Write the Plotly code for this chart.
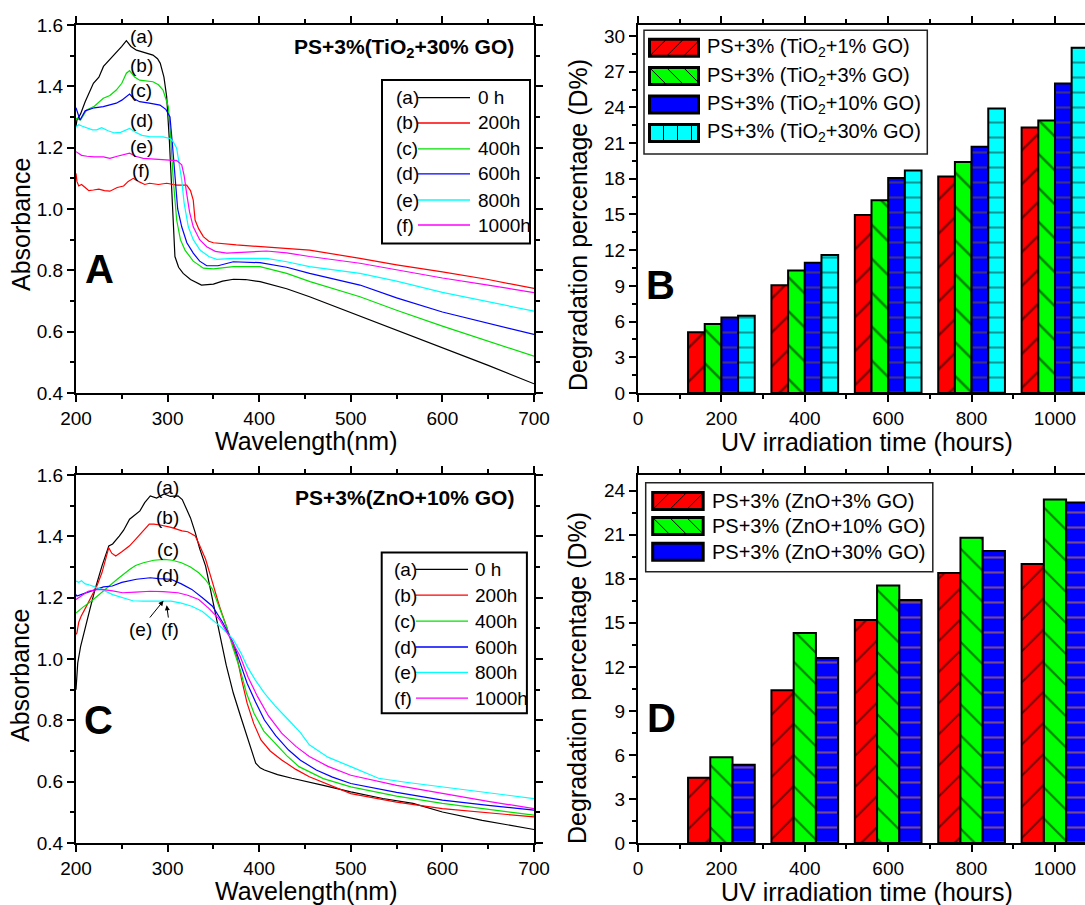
import plotly.graph_objects as go

W, H = 1085, 905
FONT = "Liberation Sans, Arial, sans-serif"

# ---------------- Panel A : PS+3%(TiO2+30% GO) absorbance ----------------
a0_wl = [200, 201, 205, 210, 219, 225, 230, 238, 244, 250, 255, 260, 266, 275, 284, 289, 292, 296, 299, 302, 304.5, 306, 308, 312, 317, 325, 337, 350, 360, 372, 385, 401, 430, 455, 510, 550, 600, 650, 700]
a0_ab = [1.27, 1.29, 1.31, 1.35, 1.41, 1.43, 1.465, 1.49, 1.508, 1.53, 1.549, 1.53, 1.518, 1.51, 1.502, 1.49, 1.475, 1.43, 1.366, 1.22, 1.073, 0.95, 0.845, 0.81, 0.79, 0.77, 0.752, 0.755, 0.765, 0.771, 0.770, 0.763, 0.74, 0.714, 0.651, 0.605, 0.547, 0.49, 0.43]
a200_wl = [200, 201, 203, 206, 210, 214, 219, 225, 231, 237, 245, 252, 257, 262.6, 268, 275, 280.3, 290, 299, 305, 310, 320.8, 325, 328, 330, 334, 339, 345, 350, 375, 400.9, 430, 455, 510, 550, 600, 650, 700]
a200_ab = [1.116, 1.09, 1.075, 1.08, 1.07, 1.06, 1.062, 1.065, 1.06, 1.058, 1.07, 1.075, 1.09, 1.10, 1.09, 1.08, 1.084, 1.08, 1.084, 1.08, 1.078, 1.078, 1.06, 1.029, 0.964, 0.935, 0.91, 0.895, 0.89, 0.883, 0.877, 0.872, 0.866, 0.839, 0.818, 0.795, 0.77, 0.741]
a400_wl = [200, 205, 211.6, 220, 229.8, 237, 244, 250, 255, 258.5, 264, 269.4, 284, 290, 295, 300.8, 303, 306.2, 309.9, 314, 319, 328, 339, 350, 371.7, 400.9, 430, 455.5, 510, 550, 600, 650, 700]
a400_ab = [1.296, 1.29, 1.323, 1.335, 1.361, 1.37, 1.388, 1.41, 1.443, 1.451, 1.43, 1.42, 1.415, 1.405, 1.388, 1.334, 1.25, 1.095, 0.964, 0.90, 0.866, 0.83, 0.807, 0.805, 0.812, 0.812, 0.79, 0.763, 0.714, 0.67, 0.618, 0.57, 0.52]
a600_wl = [200, 204.4, 210, 220, 229.8, 237, 244, 250, 258.5, 263, 269.4, 280, 291.7, 298, 302.6, 305, 308, 311, 315.4, 321, 328, 335, 342.7, 355, 371.7, 400.9, 430, 455, 510, 550, 600, 650, 700]
a600_ab = [1.33, 1.29, 1.32, 1.33, 1.334, 1.34, 1.345, 1.355, 1.375, 1.36, 1.35, 1.345, 1.339, 1.325, 1.30, 1.22, 1.095, 1.0, 0.942, 0.89, 0.856, 0.83, 0.815, 0.815, 0.828, 0.825, 0.81, 0.79, 0.752, 0.71, 0.664, 0.628, 0.591]
a800_wl = [200, 203, 207, 212, 218, 222.6, 228, 235, 242, 248.7, 258.5, 265, 272, 280.3, 295, 302.6, 306, 309.9, 312, 315.4, 318, 322.6, 328, 335.4, 345, 353.6, 371.7, 408, 430, 455, 510, 550, 600, 650, 700]
a800_ab = [1.268, 1.275, 1.27, 1.265, 1.258, 1.258, 1.265, 1.255, 1.248, 1.25, 1.263, 1.25, 1.24, 1.236, 1.235, 1.23, 1.22, 1.198, 1.16, 1.095, 1.02, 0.942, 0.90, 0.866, 0.845, 0.836, 0.839, 0.839, 0.828, 0.812, 0.79, 0.765, 0.728, 0.697, 0.667]
a1000_wl = [200, 203, 206, 212, 220, 230, 237, 245, 252, 258.5, 265, 273.4, 290, 302.6, 310, 315.4, 318, 320.8, 324, 328, 335, 342.7, 352, 364.6, 385, 408, 430, 455, 510, 550, 600, 650, 700]
a1000_ab = [1.187, 1.18, 1.175, 1.172, 1.17, 1.17, 1.165, 1.172, 1.178, 1.182, 1.172, 1.165, 1.162, 1.16, 1.158, 1.144, 1.11, 1.051, 0.99, 0.942, 0.90, 0.877, 0.862, 0.856, 0.86, 0.863, 0.857, 0.845, 0.823, 0.802, 0.775, 0.752, 0.727]

# ---------------- Panel C : PS+3%(ZnO+10% GO) absorbance ----------------
c0_wl = [200, 201.9, 205, 209.4, 215, 220.8, 228.3, 235.8, 240, 247.2, 252, 258.5, 264, 269.8, 275, 281.1, 288, 296.2, 303, 311.3, 316, 320.8, 325, 330.2, 335, 341.5, 349, 356.6, 364, 371.7, 380, 386.8, 392, 396.2, 401, 405.7, 420, 435.8, 470, 500, 535, 567.9, 600, 643.4, 700]
c0_ab = [0.90, 0.987, 1.04, 1.096, 1.16, 1.227, 1.303, 1.369, 1.375, 1.401, 1.42, 1.456, 1.47, 1.483, 1.51, 1.532, 1.525, 1.538, 1.53, 1.532, 1.52, 1.489, 1.46, 1.412, 1.36, 1.303, 1.19, 1.085, 0.98, 0.889, 0.81, 0.747, 0.70, 0.66, 0.645, 0.638, 0.623, 0.611, 0.588, 0.567, 0.545, 0.529, 0.501, 0.474, 0.444]
c200_wl = [200, 201, 203, 205.7, 211, 217, 223, 228.3, 232, 235.8, 239, 243.4, 250, 258.5, 265, 273.6, 280, 284.9, 292, 303.8, 315.8, 322, 330.2, 335, 341.5, 349, 356.6, 366, 375.5, 381, 386.8, 394, 401.9, 412, 424.5, 440, 454.7, 500, 550, 600, 650, 700]
c200_ab = [1.08, 1.085, 1.12, 1.14, 1.17, 1.205, 1.24, 1.281, 1.32, 1.363, 1.345, 1.336, 1.35, 1.369, 1.39, 1.418, 1.44, 1.44, 1.437, 1.429, 1.418, 1.415, 1.401, 1.37, 1.325, 1.25, 1.172, 1.09, 1.009, 0.93, 0.856, 0.79, 0.736, 0.70, 0.671, 0.64, 0.616, 0.561, 0.533, 0.512, 0.498, 0.485]
c400_wl = [200, 208, 217, 225, 235.8, 245, 258.5, 265, 273.6, 285, 296.2, 305, 315.1, 325, 334, 341, 349, 356, 364.2, 371, 379.2, 386, 394.3, 405, 417, 430, 443.4, 470, 500, 550, 600, 650, 700]
c400_ab = [1.15, 1.17, 1.189, 1.21, 1.238, 1.26, 1.292, 1.305, 1.314, 1.322, 1.325, 1.322, 1.314, 1.30, 1.281, 1.26, 1.227, 1.17, 1.107, 1.04, 0.965, 0.89, 0.823, 0.765, 0.725, 0.685, 0.649, 0.61, 0.583, 0.553, 0.529, 0.51, 0.491]
c600_wl = [200, 201, 210, 220.8, 230, 239.6, 250, 266, 281.1, 290, 303.8, 315, 326.4, 338, 349, 360, 371.7, 380, 386.8, 396, 405.7, 418, 432.1, 445, 462.3, 480, 500, 550, 600, 650, 700]
c600_ab = [1.21, 1.205, 1.215, 1.227, 1.235, 1.238, 1.25, 1.26, 1.265, 1.262, 1.26, 1.245, 1.227, 1.20, 1.172, 1.12, 1.052, 0.98, 0.921, 0.86, 0.801, 0.75, 0.703, 0.67, 0.638, 0.615, 0.594, 0.565, 0.54, 0.523, 0.507]
c800_wl = [200, 203, 206, 210, 213.2, 220, 228.3, 240, 250.9, 262, 273.6, 290, 303.8, 315, 326.4, 338, 349, 360, 371.7, 380, 386.8, 396, 405.7, 418, 432.1, 445, 454.7, 475, 500, 515, 530.2, 560, 600, 650, 700]
c800_ab = [1.254, 1.25, 1.255, 1.245, 1.243, 1.235, 1.227, 1.21, 1.20, 1.19, 1.189, 1.188, 1.189, 1.182, 1.172, 1.155, 1.129, 1.10, 1.063, 1.02, 0.976, 0.93, 0.889, 0.845, 0.801, 0.76, 0.72, 0.68, 0.649, 0.63, 0.611, 0.598, 0.583, 0.565, 0.545]
c1000_wl = [200, 203, 208, 213.2, 220, 228.3, 240, 250.9, 265, 281.1, 295, 311.3, 322, 334, 345, 356.6, 368, 379.2, 388, 398.1, 410, 424.5, 440, 454.7, 475, 500, 550, 600, 650, 700]
c1000_ab = [1.194, 1.20, 1.21, 1.221, 1.225, 1.227, 1.222, 1.216, 1.218, 1.221, 1.22, 1.216, 1.208, 1.194, 1.165, 1.129, 1.07, 1.009, 0.94, 0.878, 0.815, 0.758, 0.715, 0.682, 0.65, 0.621, 0.588, 0.561, 0.536, 0.512]

curve_letters = ["(a)", "(b)", "(c)", "(d)", "(e)", "(f)"]
time_labels = ["0 h", "200h", "400h", "600h", "800h", "1000h"]
line_colors = ["#000000", "#ff0000", "#00e000", "#0000ff", "#00ffff", "#ff00ff"]

# ---------------- Panel B / D : degradation bars ----------------
hours = [200, 400, 600, 800, 1000]
b_names = ["PS+3% (TiO<sub>2</sub>+1% GO)", "PS+3% (TiO<sub>2</sub>+3% GO)",
           "PS+3% (TiO<sub>2</sub>+10% GO)", "PS+3% (TiO<sub>2</sub>+30% GO)"]
b_1go = [5.1, 9.05, 14.95, 18.2, 22.3]
b_3go = [5.8, 10.3, 16.2, 19.4, 22.9]
b_10go = [6.35, 10.95, 18.06, 20.7, 26.0]
b_30go = [6.5, 11.6, 18.7, 23.9, 29.0]

d_names = ["PS+3% (ZnO+3% GO)", "PS+3% (ZnO+10% GO)", "PS+3% (ZnO+30% GO)"]
d_3go = [4.45, 10.4, 15.2, 18.4, 19.0]
d_10go = [5.85, 14.3, 17.55, 20.8, 23.4]
d_30go = [5.33, 12.6, 16.56, 19.9, 23.2]

bar_colors = ["#ff0000", "#00ff00", "#0000ff", "#00ffff"]


def PX(x):
    return x / W


def PY(y):
    return 1 - y / H


fig = go.Figure()

# spectra
A_series = [(a0_wl, a0_ab), (a200_wl, a200_ab), (a400_wl, a400_ab),
            (a600_wl, a600_ab), (a800_wl, a800_ab), (a1000_wl, a1000_ab)]
C_series = [(c0_wl, c0_ab), (c200_wl, c200_ab), (c400_wl, c400_ab),
            (c600_wl, c600_ab), (c800_wl, c800_ab), (c1000_wl, c1000_ab)]
for (wl, ab), col, nm in zip(A_series, line_colors, time_labels):
    fig.add_trace(go.Scatter(x=wl, y=ab, mode="lines", name=nm, line=dict(color=col, width=1.2),
                             xaxis="x", yaxis="y", showlegend=False))
for (wl, ab), col, nm in zip(C_series, line_colors, time_labels):
    fig.add_trace(go.Scatter(x=wl, y=ab, mode="lines", name=nm, line=dict(color=col, width=1.2),
                             xaxis="x3", yaxis="y3", showlegend=False))

# bar patterns
pat_B = [dict(shape="/", fgcolor="#000000", bgcolor=bar_colors[0], size=24, solidity=0.1),
         dict(shape="\\", fgcolor="#000000", bgcolor=bar_colors[1], size=24, solidity=0.1),
         dict(shape="-", fgcolor="#7a6010", bgcolor=bar_colors[2], size=15, solidity=0.14),
         dict(shape="-", fgcolor="#103030", bgcolor=bar_colors[3], size=15, solidity=0.14)]
pat_D = [dict(shape="/", fgcolor="#000000", bgcolor=bar_colors[0], size=22, solidity=0.1),
         dict(shape="\\", fgcolor="#000000", bgcolor=bar_colors[1], size=22, solidity=0.1),
         dict(shape="-", fgcolor="#e8901c", bgcolor=bar_colors[2], size=15, solidity=0.14)]

for vals, nm, col, pat in zip([b_1go, b_3go, b_10go, b_30go], b_names, bar_colors, pat_B):
    fig.add_trace(go.Bar(x=hours, y=vals, name=nm, xaxis="x2", yaxis="y2", showlegend=False,
                         marker=dict(color=col, pattern=pat, line=dict(color="#000000", width=2))))
for vals, nm, col, pat in zip([d_3go, d_10go, d_30go], d_names, bar_colors, pat_D):
    fig.add_trace(go.Bar(x=hours, y=vals, name=nm, xaxis="x4", yaxis="y4", showlegend=False,
                         marker=dict(color=col, pattern=pat, line=dict(color="#000000", width=2))))

XA = [76 / W, 534 / W]
XB = [638 / W, 1.0]
YT = [1 - 393 / H, 1 - 25 / H]
YBt = [1 - 843 / H, 1 - 475 / H]

tickfont = dict(family=FONT, size=19, color="black")


def ax(domain, rng, dtick, minor, anchor, mirror="ticks", tickformat=None):
    d = dict(domain=domain, range=rng, dtick=dtick, tick0=0, anchor=anchor, showline=True,
             linewidth=2, linecolor="black", mirror=mirror, ticks="outside", ticklen=7,
             tickwidth=2, tickcolor="black", showgrid=False, zeroline=False, tickfont=tickfont,
             automargin=False,
             minor=dict(dtick=minor, ticks="outside", ticklen=4, tickwidth=2, tickcolor="black"))
    if tickformat:
        d["tickformat"] = tickformat
    return d


fig.update_layout(
    width=W, height=H, margin=dict(l=0, r=0, t=0, b=0, autoexpand=False),
    paper_bgcolor="white", plot_bgcolor="white",
    font=dict(family=FONT, size=19, color="black"),
    barmode="group", bargap=0.2, bargroupgap=0,
    xaxis=ax(XA, [200, 700], 100, 50, "y"),
    yaxis=ax(YT, [0.4, 1.6], 0.2, 0.1, "x", tickformat=".1f"),
    xaxis2=ax(XB, [0, 1072], 200, 100, "y2"),
    yaxis2=ax(YT, [0, 30.92], 3, 1.5, "x2", mirror=False),
    xaxis3=ax(XA, [200, 700], 100, 50, "y3"),
    yaxis3=ax(YBt, [0.4, 1.6], 0.2, 0.1, "x3", tickformat=".1f"),
    xaxis4=ax(XB, [0, 1072], 200, 100, "y4"),
    yaxis4=ax(YBt, [0, 25.07], 3, 1.5, "x4", mirror=False),
)

ann = []
shapes = []


def text(x, y, s, size=19, bold=False, xanchor="center", yanchor="middle", angle=0, ref=("paper", "paper")):
    if bold:
        s = "<b>" + s + "</b>"
    ann.append(dict(x=x, y=y, xref=ref[0], yref=ref[1], text=s, showarrow=False,
                    font=dict(family=FONT, size=size, color="black"),
                    xanchor=xanchor, yanchor=yanchor, textangle=angle))


# axis titles
text(PX(21), PY(225), "Absorbance", size=25, angle=-90)
text(PX(306), PY(441), "Wavelength(nm)", size=25)
text(PX(20), PY(676), "Absorbance", size=25, angle=-90)
text(PX(306), PY(891), "Wavelength(nm)", size=25)
text(PX(578), PY(225), "Degradation percentage (D%)", size=25, angle=-90)
text(PX(867), PY(442), "UV irradiation time (hours)", size=25)
text(PX(577), PY(678), "Degradation percentage (D%)", size=25, angle=-90)
text(PX(867), PY(892), "UV irradiation time (hours)", size=25)

# panel letters
text(PX(99), PY(269), "A", size=40, bold=True)
text(PX(660), PY(285), "B", size=40, bold=True)
text(PX(98), PY(720), "C", size=40, bold=True)
text(PX(661), PY(718), "D", size=40, bold=True)

# panel titles
text(PX(516), PY(48), "PS+3%(TiO<sub>2</sub>+30% GO)", size=21, bold=True, xanchor="right")
text(PX(516), PY(497), "PS+3%(ZnO+10% GO)", size=21, bold=True, xanchor="right")

# curve labels
A_label_y = [1.564, 1.469, 1.385, 1.289, 1.205, 1.125]
for lab, yv in zip(curve_letters, A_label_y):
    text(271, yv, lab, ref=("x", "y"))
C_label_y = [1.56, 1.461, 1.358, 1.273]
for lab, yv in zip(curve_letters[:4], C_label_y):
    text(300, yv, lab, ref=("x3", "y3"))
# (e), (f) with arrows in C
ann.append(dict(x=295.5, y=1.19, xref="x3", yref="y3", ax=270, ay=1.096, axref="x3", ayref="y3",
                text="(e)", showarrow=True, arrowhead=2, arrowsize=1, arrowwidth=1, arrowcolor="black",
                font=dict(family=FONT, size=19, color="black")))
ann.append(dict(x=299, y=1.175, xref="x3", yref="y3", ax=302.6, ay=1.096, axref="x3", ayref="y3",
                text="(f)", showarrow=True, arrowhead=2, arrowsize=1, arrowwidth=1, arrowcolor="black",
                font=dict(family=FONT, size=19, color="black")))


def rect(x0, y0, x1, y1, fill="white", lw=2, lc="black"):
    shapes.append(dict(type="rect", xref="paper", yref="paper", x0=PX(x0), x1=PX(x1), y0=PY(y1), y1=PY(y0),
                       fillcolor=fill, line=dict(color=lc, width=lw), layer="above"))


def seg(x0, y0, x1, y1, col="black", w=1):
    shapes.append(dict(type="line", xref="paper", yref="paper", x0=PX(x0), x1=PX(x1), y0=PY(y0), y1=PY(y1),
                       line=dict(color=col, width=w), layer="above"))


# spectra legends
def spectra_legend(box, rows, let_x, line_x0, line_x1, lab_x):
    rect(*box)
    for r, lt, tl, col in zip(rows, curve_letters, time_labels, line_colors):
        text(PX(let_x), PY(r), lt, xanchor="left")
        seg(line_x0, r, line_x1, r, col=col, w=1.3)
        text(PX(lab_x), PY(r), tl, xanchor="left")


spectra_legend((382, 80, 530, 243.5), [97.6, 123, 148.8, 173.9, 200, 225], 394, 418, 470, 476)
spectra_legend((381.7, 552.6, 526.9, 713.2), [569.3, 595.1, 621.2, 647, 672.4, 698.1], 392, 416, 468, 473)


# bar legends
def hatch(x0, y0, x1, y1, kind, step, col="black"):
    if kind == "/":
        c = x0 + y0 + step
        while c < x1 + y1:
            xa = max(x0, c - y1)
            xb = min(x1, c - y0)
            if xb > xa:
                seg(xa, c - xa, xb, c - xb, col=col, w=1)
            c += step
    elif kind == "\\":
        c = x0 - y1 + step
        while c < x1 - y0:
            xa = max(x0, y0 + c)
            xb = min(x1, y1 + c)
            if xb > xa:
                seg(xa, xa - c, xb, xb - c, col=col, w=1)
            c += step
    elif kind == "|":
        x = x0 + step
        while x < x1 - 2:
            seg(x, y0, x, y1, col=col, w=1)
            x += step


def bar_legend(box, rows, sx0, sx1, hh, tx, names, kinds):
    rect(*box, lw=1.5, lc="#222222")
    for r, nm, col, kd in zip(rows, names, bar_colors, kinds):
        rect(sx0, r - hh, sx1, r + hh, fill=col, lw=0)
        if kd:
            hatch(sx0, r - hh, sx1, r + hh, kd, 17 if kd != "|" else 14)
        rect(sx0, r - hh, sx1, r + hh, fill="rgba(0,0,0,0)", lw=3)
        text(PX(tx), PY(r), nm, size=20, xanchor="left")


bar_legend((644, 30.3, 927.3, 154), [47.7, 76.1, 104.5, 132.9], 649.5, 698.5, 8.5, 705,
           b_names, ["/", "\\", None, "|"])
bar_legend((645.7, 482.7, 932.8, 571.7), [501, 526, 551.7], 652.7, 703.2, 8.5, 709.5,
           d_names, ["/", "\\", None])

fig.update_layout(annotations=ann, shapes=shapes)
fig.write_html("out.html")
